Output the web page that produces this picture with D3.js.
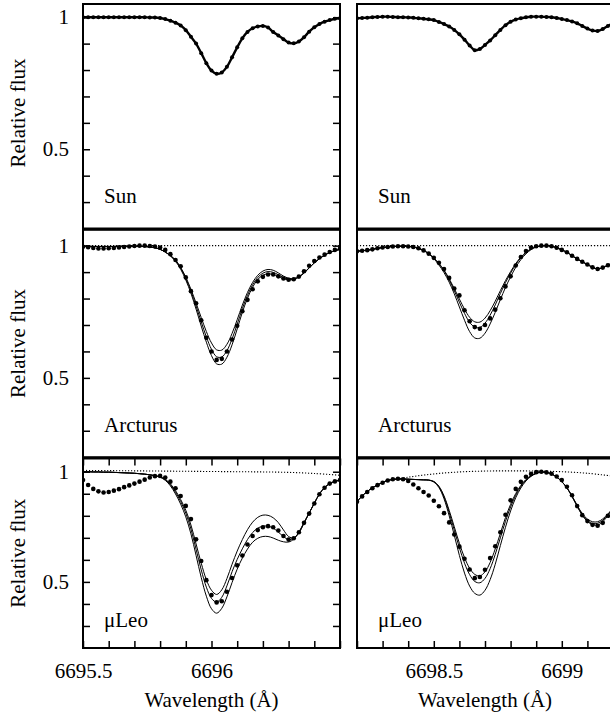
<!DOCTYPE html>
<html>
<head>
<meta charset="utf-8">
<script src="https://cdn.jsdelivr.net/npm/d3@7"></script>
<style>
  html, body { margin: 0; padding: 0; background: #fff; }
  svg { display: block; }
</style>
</head>
<body>
<div id="chart"></div>
<script>
// ---- Sampling grids (0.02 Å steps) ----
const waveL = d3.range(51).map(i => +(6695.5 + i * 0.02).toFixed(2));
const waveR = d3.range(51).map(i => +(6698.2 + i * 0.02).toFixed(2));
const contWaveL = [6695.5, 6695.6, 6695.7, 6695.8, 6695.9, 6696.0, 6696.1, 6696.2, 6696.3, 6696.4, 6696.5];
const contWaveR = [6698.2, 6698.3, 6698.4, 6698.5, 6698.6, 6698.7, 6698.8, 6698.9, 6699.0, 6699.1, 6699.2];
const contWaveR2 = [6698.3, 6698.4, 6698.5, 6698.6, 6698.7, 6698.8, 6698.9, 6699.0, 6699.1, 6699.2];

// ---- Sun ----
const sunObsL = [1.000,1.000,1.000,1.000,1.000,1.000,1.000,1.000,1.000,1.000,
  1.000,1.000,1.000,0.999,0.999,0.997,0.993,0.987,0.979,0.969,
  0.951,0.926,0.900,0.864,0.826,0.798,0.786,0.791,0.812,0.848,
  0.886,0.920,0.944,0.958,0.965,0.967,0.961,0.944,0.931,0.917,
  0.904,0.901,0.908,0.924,0.945,0.962,0.974,0.983,0.989,0.994,
  0.996];
const sunObsR = [0.996,0.997,0.998,1.000,1.001,1.002,1.002,1.001,1.000,1.000,
  0.999,0.998,0.996,0.994,0.992,0.989,0.982,0.974,0.965,0.952,
  0.935,0.915,0.893,0.875,0.880,0.895,0.912,0.932,0.952,0.970,
  0.983,0.991,0.996,1.000,1.002,1.002,1.002,1.001,1.000,0.997,
  0.993,0.989,0.984,0.977,0.967,0.957,0.950,0.948,0.955,0.967,
  0.977];

// ---- Arcturus ----
const arcObsL = [0.996,0.994,0.991,0.989,0.989,0.990,0.991,0.993,0.995,0.997,
  0.999,1.000,1.000,0.999,0.997,0.993,0.984,0.968,0.946,0.922,
  0.880,0.828,0.782,0.718,0.652,0.600,0.568,0.572,0.600,0.645,
  0.697,0.752,0.795,0.835,0.865,0.882,0.891,0.891,0.884,0.876,
  0.871,0.873,0.883,0.903,0.924,0.942,0.955,0.966,0.976,0.984,
  0.989];
const arcFitLHi = [0.998,0.998,0.997,0.997,0.997,0.997,0.997,0.998,0.998,0.998,
  0.998,0.998,0.997,0.995,0.992,0.986,0.976,0.963,0.946,0.918,
  0.881,0.835,0.783,0.728,0.675,0.632,0.606,0.605,0.627,0.668,
  0.720,0.775,0.823,0.861,0.888,0.904,0.910,0.907,0.897,0.885,
  0.877,0.876,0.883,0.898,0.916,0.935,0.951,0.964,0.974,0.981,
  0.986];
const arcFitLMid = [0.998,0.998,0.997,0.997,0.997,0.997,0.997,0.998,0.998,0.998,
  0.998,0.998,0.997,0.995,0.992,0.986,0.976,0.962,0.944,0.915,
  0.876,0.828,0.772,0.712,0.655,0.608,0.580,0.579,0.603,0.647,
  0.703,0.762,0.812,0.852,0.880,0.896,0.902,0.899,0.890,0.880,
  0.874,0.874,0.882,0.897,0.916,0.935,0.951,0.964,0.974,0.981,
  0.986];
const arcFitLLo = [0.998,0.998,0.997,0.997,0.997,0.997,0.997,0.998,0.998,0.998,
  0.998,0.998,0.997,0.995,0.992,0.986,0.976,0.961,0.941,0.911,
  0.870,0.820,0.760,0.696,0.635,0.584,0.553,0.552,0.578,0.625,
  0.685,0.748,0.801,0.843,0.872,0.888,0.894,0.891,0.883,0.875,
  0.871,0.872,0.881,0.896,0.916,0.935,0.951,0.964,0.974,0.981,
  0.986];
const arcContL = [1.000,1.000,1.000,1.000,1.000,1.000,1.000,1.000,1.000,1.000,1.000];

const arcObsR = [0.979,0.981,0.983,0.986,0.990,0.993,0.995,0.997,0.998,0.998,
  0.997,0.995,0.990,0.982,0.970,0.954,0.935,0.912,0.878,0.838,
  0.812,0.756,0.714,0.692,0.686,0.700,0.725,0.758,0.801,0.846,
  0.884,0.925,0.957,0.980,0.993,0.998,1.000,1.000,0.998,0.992,
  0.984,0.975,0.962,0.950,0.939,0.929,0.918,0.912,0.917,0.926,
  0.936];
const arcFitRHi = [0.979,0.981,0.983,0.986,0.990,0.993,0.995,0.997,0.998,0.998,
  0.997,0.995,0.990,0.982,0.970,0.954,0.933,0.908,0.875,0.838,
  0.798,0.760,0.729,0.712,0.711,0.726,0.754,0.790,0.830,0.868,
  0.902,0.932,0.957,0.975,0.988,0.995,0.999,1.000,0.998,0.992,
  0.984,0.975,0.962,0.950,0.939,0.929,0.918,0.912,0.917,0.926,
  0.936];
const arcFitRMid = [0.979,0.981,0.983,0.986,0.990,0.993,0.995,0.997,0.998,0.998,
  0.997,0.995,0.990,0.982,0.970,0.953,0.931,0.905,0.870,0.830,
  0.786,0.744,0.710,0.692,0.691,0.707,0.737,0.776,0.819,0.860,
  0.896,0.928,0.954,0.973,0.987,0.995,0.999,1.000,0.998,0.992,
  0.984,0.975,0.962,0.950,0.939,0.929,0.918,0.912,0.917,0.926,
  0.936];
const arcFitRLo = [0.979,0.981,0.983,0.986,0.990,0.993,0.995,0.997,0.998,0.998,
  0.997,0.995,0.990,0.982,0.969,0.951,0.927,0.898,0.862,0.818,
  0.768,0.718,0.675,0.651,0.650,0.669,0.704,0.748,0.796,0.842,
  0.882,0.918,0.947,0.969,0.985,0.995,0.999,1.000,0.998,0.992,
  0.984,0.975,0.962,0.950,0.939,0.929,0.918,0.912,0.917,0.926,
  0.936];
const arcContR = [1.000,1.000,1.000,1.000,1.000,1.000,1.000,1.000,1.000,1.000,1.000];

// ---- mu Leo ----
const leoObsL = [0.962,0.940,0.922,0.911,0.906,0.908,0.914,0.921,0.930,0.938,
  0.946,0.955,0.964,0.974,0.980,0.981,0.974,0.955,0.925,0.890,
  0.845,0.785,0.693,0.595,0.508,0.440,0.407,0.412,0.455,0.518,
  0.575,0.620,0.670,0.708,0.735,0.748,0.753,0.748,0.733,0.708,
  0.692,0.698,0.725,0.768,0.810,0.856,0.898,0.927,0.946,0.956,
  0.962];
const leoFitLHi = [1.000,1.000,0.999,0.999,0.998,0.998,0.997,0.996,0.995,0.994,
  0.993,0.991,0.989,0.986,0.982,0.977,0.966,0.945,0.914,0.874,
  0.825,0.758,0.672,0.585,0.510,0.462,0.443,0.464,0.515,0.580,
  0.640,0.692,0.737,0.771,0.793,0.803,0.802,0.791,0.769,0.736,
  0.706,0.700,0.722,0.766,0.812,0.857,0.899,0.928,0.946,0.956,
  0.962];
const leoFitLMid = [1.000,1.000,0.999,0.999,0.998,0.998,0.997,0.996,0.995,0.994,
  0.993,0.991,0.989,0.986,0.982,0.976,0.964,0.941,0.907,0.865,
  0.812,0.740,0.648,0.555,0.476,0.425,0.408,0.430,0.482,0.546,
  0.602,0.650,0.692,0.724,0.744,0.753,0.753,0.744,0.726,0.706,
  0.692,0.698,0.724,0.768,0.812,0.857,0.899,0.928,0.946,0.956,
  0.962];
const leoFitLLo = [1.000,1.000,0.999,0.999,0.998,0.998,0.997,0.996,0.995,0.994,
  0.993,0.991,0.989,0.986,0.982,0.975,0.961,0.936,0.899,0.853,
  0.795,0.718,0.620,0.520,0.435,0.378,0.358,0.380,0.432,0.497,
  0.558,0.608,0.649,0.680,0.698,0.706,0.706,0.699,0.689,0.682,
  0.681,0.694,0.726,0.770,0.813,0.857,0.899,0.928,0.946,0.956,
  0.962];
const leoContL = [1.006,1.005,1.004,1.003,1.002,1.001,1.000,0.999,0.997,0.992,0.984];

const leoObsR = [0.864,0.888,0.908,0.925,0.939,0.950,0.960,0.966,0.968,0.966,
  0.958,0.942,0.925,0.908,0.892,0.868,0.843,0.812,0.770,0.715,
  0.660,0.605,0.556,0.517,0.522,0.555,0.608,0.662,0.725,0.805,
  0.870,0.922,0.954,0.977,0.990,0.998,1.000,0.997,0.991,0.978,
  0.962,0.932,0.893,0.844,0.803,0.776,0.759,0.755,0.768,0.800,
  0.830];
const leoFitRHi = [0.864,0.890,0.910,0.927,0.940,0.951,0.960,0.965,0.967,0.967,
  0.966,0.965,0.964,0.963,0.962,0.956,0.934,0.890,0.825,0.750,
  0.675,0.610,0.562,0.534,0.527,0.546,0.588,0.650,0.720,0.792,
  0.852,0.901,0.938,0.965,0.982,0.993,0.998,0.997,0.990,0.976,
  0.955,0.927,0.890,0.848,0.810,0.785,0.773,0.773,0.786,0.808,
  0.836];
const leoFitRMid = [0.864,0.890,0.910,0.927,0.940,0.951,0.960,0.965,0.967,0.967,
  0.966,0.965,0.964,0.963,0.962,0.955,0.932,0.885,0.815,0.735,
  0.655,0.585,0.533,0.502,0.496,0.516,0.560,0.625,0.700,0.775,
  0.840,0.893,0.933,0.962,0.981,0.993,0.998,0.997,0.990,0.976,
  0.955,0.927,0.888,0.845,0.805,0.778,0.765,0.766,0.780,0.805,
  0.835];
const leoFitRLo = [0.864,0.890,0.910,0.927,0.940,0.951,0.960,0.965,0.967,0.967,
  0.966,0.965,0.964,0.963,0.962,0.953,0.928,0.877,0.800,0.712,
  0.620,0.540,0.481,0.448,0.440,0.462,0.510,0.580,0.665,0.748,
  0.822,0.882,0.926,0.958,0.979,0.992,0.998,0.997,0.990,0.976,
  0.955,0.927,0.887,0.843,0.802,0.774,0.760,0.758,0.773,0.801,
  0.833];
const leoContR = [0.955,0.975,0.990,0.999,1.003,1.004,1.003,1.000,0.993,0.980];

// ---- Axis ticks and labels ----
const yTicks = [0.3, 0.4, 0.5, 0.6, 0.7, 0.8, 0.9, 1.0];
const yTickLabels = [0.5, 1];
const xTicksL = [6695.5, 6695.6, 6695.7, 6695.8, 6695.9, 6696.0, 6696.1, 6696.2, 6696.3, 6696.4, 6696.5];
const xTicksR = [6698.2, 6698.3, 6698.4, 6698.5, 6698.6, 6698.7, 6698.8, 6698.9, 6699.0, 6699.1, 6699.2];
const xTickLabelsL = [6695.5, 6696];
const xTickLabelsR = [6698.5, 6699];
const starNames = ["Sun", "Arcturus", "\u03bcLeo"];
const yTitle = "Relative flux";
const xTitle = "Wavelength (\u00c5)";

// ---- Layout ----
const W = 610, H = 717;
const serif = '"Liberation Serif"';
const colX = [[83, 340], [357, 613]];
const rowY = [[4, 228.5], [229.8, 457.2], [458.5, 648]];
const yDomains = [[0.2, 1.05], [0.2, 1.06], [0.2, 1.06]];
const xDomains = [[6695.5, 6696.5], [6698.2, 6699.2]];
const fontSize = "21px";

const panels = [
  { row: 0, col: 0, wave: waveL, obs: sunObsL, fits: [], cont: null, sun: true },
  { row: 0, col: 1, wave: waveR, obs: sunObsR, fits: [], cont: null, sun: true },
  { row: 1, col: 0, wave: waveL, obs: arcObsL, fits: [arcFitLHi, arcFitLMid, arcFitLLo], cont: { w: contWaveL, v: arcContL } },
  { row: 1, col: 1, wave: waveR, obs: arcObsR, fits: [arcFitRHi, arcFitRMid, arcFitRLo], cont: { w: contWaveR, v: arcContR } },
  { row: 2, col: 0, wave: waveL, obs: leoObsL, fits: [leoFitLHi, leoFitLMid, leoFitLLo], cont: { w: contWaveL, v: leoContL } },
  { row: 2, col: 1, wave: waveR, obs: leoObsR, fits: [leoFitRHi, leoFitRMid, leoFitRLo], cont: { w: contWaveR2, v: leoContR } }
];

const svg = d3.select("#chart").append("svg")
  .attr("width", W).attr("height", H)
  .attr("viewBox", `0 0 ${W} ${H}`);

const defs = svg.append("defs");
const fmt = d3.format("");
const styleText = sel => sel.style("font-family", serif).style("font-size", fontSize).attr("fill", "#000");

panels.forEach((p, k) => {
  const [x0, x1] = colX[p.col];
  const [y0, y1] = rowY[p.row];
  const x = d3.scaleLinear().domain(xDomains[p.col]).range([x0, x1]);
  const y = d3.scaleLinear().domain(yDomains[p.row]).range([y1, y0]);

  const clipId = "clip" + k;
  defs.append("clipPath").attr("id", clipId)
    .append("rect").attr("x", x0).attr("y", y0).attr("width", x1 - x0).attr("height", y1 - y0);

  const g = svg.append("g");
  const plot = g.append("g").attr("clip-path", `url(#${clipId})`);

  const line = (ws) => d3.line()
    .x((d, i) => x(ws[i]))
    .y(d => y(d))
    .curve(d3.curveCatmullRom.alpha(0.5));

  // synthetic spectra
  p.fits.forEach(f => {
    plot.append("path").datum(f)
      .attr("d", line(p.wave))
      .attr("fill", "none").attr("stroke", "#000").attr("stroke-width", 1);
  });

  // continuum (dotted)
  if (p.cont) {
    plot.append("path").datum(p.cont.v)
      .attr("d", line(p.cont.w))
      .attr("fill", "none").attr("stroke", "#000")
      .attr("stroke-width", 1.1).attr("stroke-dasharray", "1.2,1.8");
  }

  // observed spectrum
  if (p.sun) {
    plot.append("path").datum(p.obs)
      .attr("d", line(p.wave))
      .attr("fill", "none").attr("stroke", "#000").attr("stroke-width", 2.4);
  }
  plot.append("g").selectAll("circle").data(p.obs).join("circle")
    .attr("cx", (d, i) => x(p.wave[i]))
    .attr("cy", d => y(d))
    .attr("r", p.sun ? 2.0 : 2.3)
    .attr("fill", "#000");

  // frame
  g.append("rect").attr("x", x0).attr("y", y0)
    .attr("width", x1 - x0).attr("height", y1 - y0)
    .attr("fill", "none").attr("stroke", "#000").attr("stroke-width", 2);

  // y axes (left column only)
  if (p.col === 0) {
    const yl = g.append("g").attr("transform", `translate(${x0},0)`)
      .call(d3.axisLeft(y).tickValues(yTicks).tickSize(-7).tickPadding(14)
        .tickFormat(d => yTickLabels.some(t => Math.abs(t - d) < 1e-9) ? fmt(+d.toFixed(1)) : ""));
    const yr = g.append("g").attr("transform", `translate(${x1},0)`)
      .call(d3.axisRight(y).tickValues(yTicks).tickSize(-7).tickFormat(""));
    [yl, yr].forEach(a => {
      a.select(".domain").remove();
      a.selectAll(".tick line").attr("stroke-width", 1.5);
      a.selectAll("text").call(styleText);
    });
    const cy = p.row === 0 ? 113 : (y0 + y1) / 2;
    g.append("text")
      .attr("transform", `translate(25,${cy}) rotate(-90)`)
      .attr("text-anchor", "middle")
      .call(styleText)
      .text(yTitle);
  }

  // x axes (bottom row only)
  if (p.row === 2) {
    const ticks = p.col === 0 ? xTicksL : xTicksR;
    const labs = p.col === 0 ? xTickLabelsL : xTickLabelsR;
    const xb = g.append("g").attr("transform", `translate(0,${y1})`)
      .call(d3.axisBottom(x).tickValues(ticks).tickSize(-7).tickPadding(15)
        .tickFormat(d => labs.some(t => Math.abs(t - d) < 1e-6) ? fmt(+d.toFixed(1)) : ""));
    const xt = g.append("g").attr("transform", `translate(0,${y0})`)
      .call(d3.axisTop(x).tickValues(ticks).tickSize(-7).tickFormat(""));
    [xb, xt].forEach(a => {
      a.select(".domain").remove();
      a.selectAll(".tick line").attr("stroke-width", 1.5);
      a.selectAll("text").call(styleText);
    });
    g.append("text")
      .attr("x", (x0 + x1) / 2).attr("y", 707)
      .attr("text-anchor", "middle")
      .call(styleText)
      .text(xTitle);
  }

  // star name
  g.append("text")
    .attr("x", x0 + 21)
    .attr("y", p.row === 0 ? 203 : (p.row === 1 ? 432 : 627))
    .call(styleText)
    .text(starNames[p.row]);
});
</script>
</body>
</html>
